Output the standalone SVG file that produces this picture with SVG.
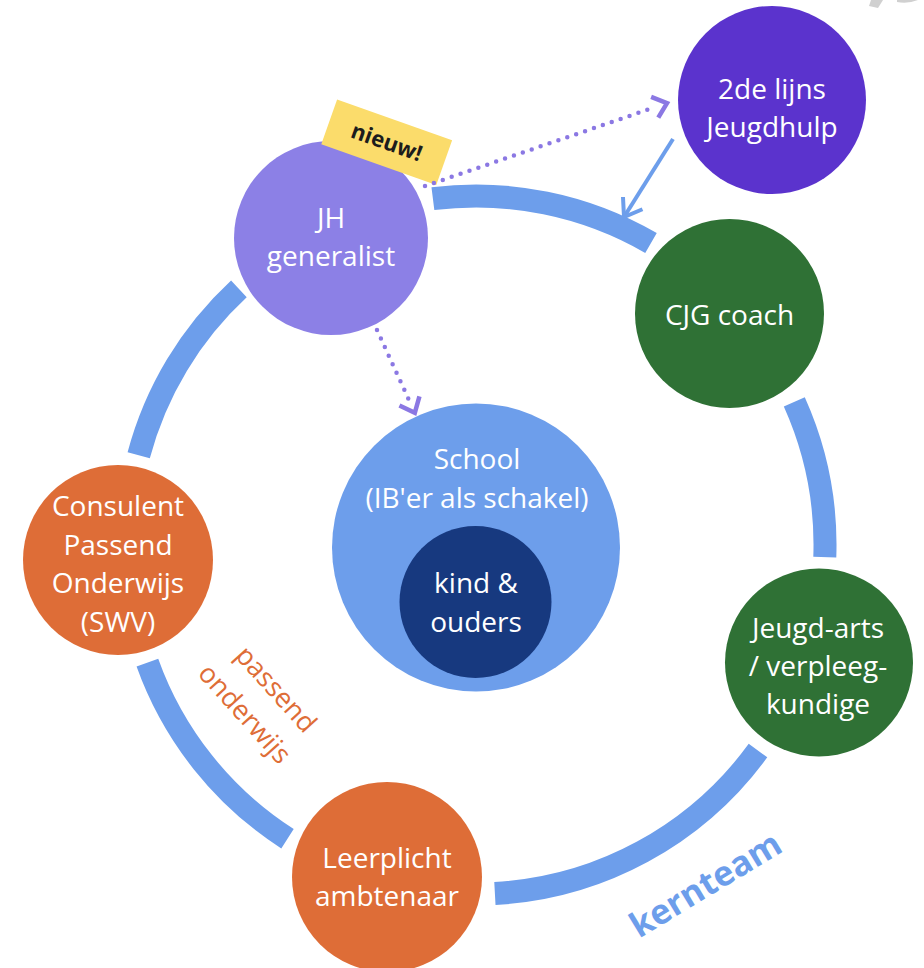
<svg xmlns="http://www.w3.org/2000/svg" width="924" height="968" viewBox="0 0 924 968">
<style>
.ring{fill:none;stroke:#6d9eeb;stroke-width:23;stroke-linecap:butt}
.node text{font-family:"Open Sans","Noto Sans",sans-serif;font-size:28px;fill:#ffffff;text-anchor:middle}
.dots{fill:none;stroke:#8b78e3;stroke-width:4.5;stroke-linecap:round;stroke-dasharray:0 9.4}
.solid{fill:none;stroke:#6d9eeb;stroke-width:4}
.green{fill:#2f7135}
.orange{fill:#de6d37}
</style>
<defs>
<marker id="chevP" markerUnits="userSpaceOnUse" viewBox="-30 -16 34 32" markerWidth="34" markerHeight="32" refX="-15" refY="0" orient="auto" overflow="visible">
<path d="M-13,-11 L0,0 L-13,11" fill="none" stroke="#8b78e3" stroke-width="4.5"/>
</marker>
<marker id="chevB" markerUnits="userSpaceOnUse" viewBox="-20 -16 24 32" markerWidth="24" markerHeight="32" refX="0" refY="0" orient="auto" overflow="visible">
<path d="M-16.4,-11.5 L0,0 L-16.4,11.5" fill="none" stroke="#6d9eeb" stroke-width="4"/>
</marker>
</defs>
<rect width="924" height="968" fill="#ffffff"/>
<path d="M871,0 L883,0 L878,8 L869,6 Z M897,0 L918,0 Q908,4 897,2 Z" fill="#d0d0d0"/>

<g id="ring">
<path class="ring" d="M432.9,198.7 A349,349 0 0 1 651,243"/>
<path class="ring" d="M794.3,401.9 A349,349 0 0 1 824.8,557.2"/>
<path class="ring" d="M758,750.6 A349,349 0 0 1 494.9,893.5"/>
<path class="ring" d="M287.5,838.7 A349,349 0 0 1 147.4,662.6"/>
<path class="ring" d="M138.7,455.3 A349,349 0 0 1 238.9,288.9"/>
</g>

<g id="school" class="node">
<circle cx="476" cy="547.5" r="144" fill="#6d9eeb"/>
<text x="477" y="469">School</text>
<text x="477" y="508">(IB'er als schakel)</text>
</g>
<g id="kind" class="node">
<circle cx="475.5" cy="602" r="76" fill="#17397f"/>
<text x="476" y="593">kind &amp;</text>
<text x="476" y="632">ouders</text>
</g>
<g id="jh" class="node">
<circle cx="331" cy="238" r="97" fill="#8c80e6"/>
<text x="331" y="228">JH</text>
<text x="331" y="266">generalist</text>
</g>
<g id="nieuw">
<g transform="translate(386.7,142.2) rotate(19.5)">
<rect x="-61" y="-23.7" width="122" height="47.4" fill="#fbdc6b"/>
<text x="0" y="7.5" font-family="'Open Sans','Noto Sans',sans-serif" font-size="22" font-weight="bold" fill="#1c1c1c" text-anchor="middle">nieuw!</text>
</g>
</g>
<g id="tweedelijns" class="node">
<circle cx="772" cy="100" r="94" fill="#5b33cd"/>
<text x="772" y="99">2de lijns</text>
<text x="772" y="137">Jeugdhulp</text>
</g>
<g id="cjg" class="node">
<circle cx="729.5" cy="313.5" r="94.5" class="green"/>
<text x="729.5" y="325">CJG coach</text>
</g>
<g id="jeugdarts" class="node">
<circle cx="819" cy="662.5" r="94" class="green"/>
<text x="818" y="638">Jeugd-arts</text>
<text x="818" y="676">/ verpleeg-</text>
<text x="818" y="714">kundige</text>
</g>
<g id="leerplicht" class="node">
<circle cx="387" cy="877" r="95" class="orange"/>
<text x="387" y="868">Leerplicht</text>
<text x="387" y="906">ambtenaar</text>
</g>
<g id="consulent" class="node">
<circle cx="118" cy="560" r="95" class="orange"/>
<text x="118" y="516">Consulent</text>
<text x="118" y="555">Passend</text>
<text x="118" y="593">Onderwijs</text>
<text x="118" y="632">(SWV)</text>
</g>

<g id="connectors">
<path class="dots" d="M425,186 L652.8,107.9" marker-end="url(#chevP)"/>
<path class="dots" d="M377,330 L408.6,399.2" marker-end="url(#chevP)"/>
<path class="solid" d="M673,139 L624,217" marker-end="url(#chevB)"/>
</g>

<g id="labels" font-family="'Open Sans','Noto Sans',sans-serif">
<text transform="translate(274.7,690.5) rotate(48)" font-size="27" fill="#de6d37" text-anchor="middle"><tspan x="0" y="7.3">passend</tspan><tspan x="-2.8" y="47">onderwijs</tspan></text>
<text transform="translate(707,887) rotate(-31.2)" font-size="34.5" font-weight="bold" fill="#6d9eeb" text-anchor="middle" x="0" y="9">kernteam</text>
</g>
</svg>
